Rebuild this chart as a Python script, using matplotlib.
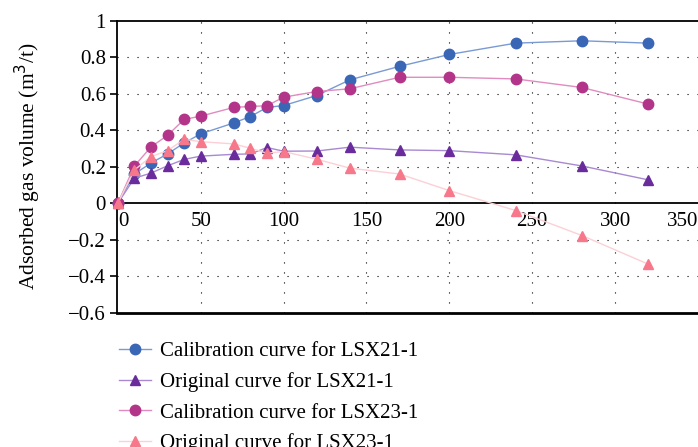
#!/usr/bin/env python3
"""
Adsorbed gas volume: calibration vs original curves for LSX21-1 and LSX23-1
"""
import matplotlib
matplotlib.use('Agg')
import matplotlib.pyplot as plt

x = [0, 10, 20, 30, 40, 50, 70, 80, 90, 100, 120, 140, 170, 200, 240, 280, 320]

calib_21 = [0, 0.16, 0.22, 0.27, 0.33, 0.38, 0.44, 0.475, 0.525, 0.535, 0.59, 0.676, 0.75, 0.815, 0.877, 0.89, 0.877]
orig_21 = [0, 0.137, 0.165, 0.205, 0.24, 0.258, 0.268, 0.27, 0.305, 0.285, 0.286, 0.307, 0.292, 0.288, 0.265, 0.204, 0.128]
calib_23 = [0, 0.204, 0.308, 0.372, 0.459, 0.477, 0.525, 0.53, 0.534, 0.581, 0.612, 0.627, 0.69, 0.69, 0.681, 0.634, 0.543]
orig_23 = [0, 0.182, 0.255, 0.288, 0.35, 0.337, 0.325, 0.301, 0.274, 0.283, 0.241, 0.192, 0.16, 0.069, -0.04, -0.177, -0.334]

labels = ['Calibration curve for LSX21-1', 'Original curve for LSX21-1',
          'Calibration curve for LSX23-1', 'Original curve for LSX23-1']

xticks = [0, 50, 100, 150, 200, 250, 300, 350]
yticks = [-0.6, -0.4, -0.2, 0, 0.2, 0.4, 0.6, 0.8, 1]

plt.rcParams['font.family'] = ['Liberation Serif', 'DejaVu Serif']
plt.rcParams['axes.unicode_minus'] = True

fig = plt.figure(figsize=(6.98, 4.47), dpi=100)
ax = fig.add_axes([0.1676, 0.3004, 0.8324, 0.6533])

# series: (values, marker colour, line colour, marker)
series = [
    (calib_21, '#3a66b6', '#7a9ad4', 'o'),
    (orig_21, '#6a2c9c', '#a889d2', '^'),
    (calib_23, '#b3358a', '#e08cbf', 'o'),
    (orig_23, '#f7788a', '#fcd0d6', '^'),
]
for (vals, mc, lc, mk), lab in zip(series, labels):
    ax.plot(x, vals, color=lc, lw=1.0, marker=mk, markersize=7.5,
            markerfacecolor=mc, markeredgecolor=mc, label=lab, clip_on=False, zorder=3)

ax.set_xlim(-0.5, 350)
ax.set_ylim(-0.6, 1)

# dotted grid
for gx in [50, 100, 150, 200, 250, 300]:
    ax.axvline(gx, color='k', lw=0.8, ls=(0, (1, 8)), zorder=1)
for gy in [-0.4, -0.2, 0.2, 0.4, 0.6, 0.8]:
    ax.axhline(gy, color='k', lw=0.8, ls=(0, (1, 8)), zorder=1)

ax.spines['right'].set_visible(False)
ax.spines['bottom'].set_position(('data', 0))
ax.spines['bottom'].set_linewidth(1.3)
ax.spines['left'].set_linewidth(1.3)
ax.spines['top'].set_linewidth(1.3)
ax.axhline(-0.6, color='k', lw=2.0, clip_on=False)

ax.set_xticks(xticks)
ax.set_xticklabels([str(t) for t in xticks])
tl = ax.get_xticklabels()
tl[0].set_ha('left')
tl[-1].set_ha('right')
ax.set_yticks(yticks)
ax.set_yticklabels(['\u22120.6', '\u22120.4', '\u22120.2', '0', '0.2', '0.4', '0.6', '0.8', '1'])
ax.tick_params(axis='x', length=0, pad=6, labelsize=15)
ax.tick_params(axis='y', direction='out', length=5, width=1.2, pad=3, labelsize=15)

ax.set_ylabel('Adsorbed gas volume (m$^3$/t)', fontsize=15.5, labelpad=18)

fig.legend(loc='upper left', bbox_to_anchor=(0.158, 0.254), frameon=False,
           fontsize=15, handlelength=1.55, handletextpad=0.45, labelspacing=0.52,
           borderaxespad=0)

fig.savefig('out.png', dpi=100)
